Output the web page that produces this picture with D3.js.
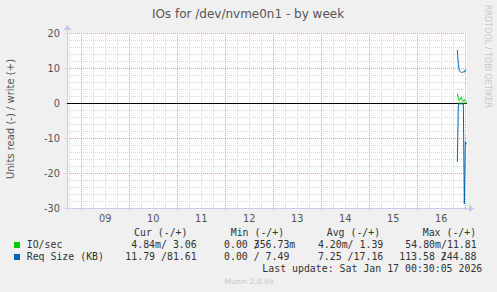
<!DOCTYPE html>
<html>
<head>
<meta charset="utf-8">
<script src="https://cdn.jsdelivr.net/npm/d3@7"></script>
<style>
  body { margin: 0; background: #f0f0f0; }
  svg { display: block; }
  .mono { font-family: "DejaVu Sans Mono", monospace; font-size: 9.9px; fill: #333; white-space: pre; }
</style>
</head>
<body>
<div id="chart"></div>
<script>
// time points of the last few hours (30 min steps), the rest of the week is empty
const times = [
  "2026-01-16 20:00", "2026-01-16 20:30", "2026-01-16 21:00", "2026-01-16 21:30",
  "2026-01-16 22:00", "2026-01-16 22:30", "2026-01-16 23:00", "2026-01-16 23:30",
  "2026-01-17 00:00", "2026-01-17 00:30",
];
const ioWrite = [2.6, 1.6, 0.6, 1.2, 1.7, 0.7, 0.5, 1.0, 0.4, 0.3];
const ioRead = [-0.01, -0.005, -0.004, -0.004, -0.003, -0.004, -0.005, -0.006, -0.005, -0.005];
const reqWrite = [15.1, 11.0, 9.2, 8.9, 8.7, 8.8, 8.9, 8.8, 9.4, 9.2];
const reqRead = [-16.8, -0.4, -0.3, -0.3, -0.2, -0.3, -0.3, -28.8, -11.1, -11.8];

const yTicks = [20, 10, 0, -10, -20, -30];
const legendHeader = ["Cur (-/+)", "Min (-/+)", "Avg (-/+)", "Max (-/+)"];
const legendNames = ["IO/sec", "Req Size (KB)"];
const legendColors = ["#00cc00", "#0066b3"];
const curValues = ["4.84m/ 3.06", "11.79 /81.61"];
const minValues = ["0.00 /356.73m", "0.00 / 7.49"];
const avgValues = ["4.20m/ 1.39", "7.25 /17.16"];
const maxValues = ["54.80m/11.81", "113.58 /244.88"];

const width = 497;
const height = 292;
const plot = { left: 67, right: 467, top: 33, bottom: 208 };
const charW = 5.96;

const parse = d3.timeParse("%Y-%m-%d %H:%M");
const start = parse("2026-01-08 16:50");
const end = parse("2026-01-17 00:50");

const svg = d3
  .select("#chart")
  .append("svg")
  .attr("width", width)
  .attr("height", height);

svg.append("rect").attr("width", width).attr("height", height).attr("fill", "#f0f0f0");
svg
  .append("rect")
  .attr("x", plot.left)
  .attr("y", plot.top)
  .attr("width", plot.right - plot.left)
  .attr("height", plot.bottom - plot.top)
  .attr("fill", "#ffffff");

const xScale = d3.scaleTime().domain([start, end]).range([plot.left, plot.right]);
const yScale = d3.scaleLinear().domain([-30, 20]).range([plot.bottom, plot.top]);

// minor grid
const minorX = d3.timeHour.every(6).range(start, end);
const minorY = d3.range(-30, 21, 2);
const grid = svg.append("g").attr("shape-rendering", "crispEdges");
grid
  .selectAll(".mx")
  .data(minorX)
  .enter()
  .append("line")
  .attr("x1", (d) => Math.round(xScale(d)) + 0.5)
  .attr("x2", (d) => Math.round(xScale(d)) + 0.5)
  .attr("y1", plot.top)
  .attr("y2", plot.bottom)
  .attr("stroke", "#d8d8d8")
  .attr("stroke-dasharray", "1,1");
grid
  .selectAll(".my")
  .data(minorY)
  .enter()
  .append("line")
  .attr("x1", plot.left)
  .attr("x2", plot.right)
  .attr("y1", (d) => Math.round(yScale(d)) + 0.5)
  .attr("y2", (d) => Math.round(yScale(d)) + 0.5)
  .attr("stroke", "#d8d8d8")
  .attr("stroke-dasharray", "1,1");

// major grid
const majorX = d3.timeDay.range(start, end);
grid
  .selectAll(".Mx")
  .data(majorX)
  .enter()
  .append("line")
  .attr("x1", (d) => Math.round(xScale(d)) + 0.5)
  .attr("x2", (d) => Math.round(xScale(d)) + 0.5)
  .attr("y1", plot.top)
  .attr("y2", plot.bottom + 3)
  .attr("stroke", "#eaa0a0")
  .attr("stroke-dasharray", "1,1");
grid
  .selectAll(".My")
  .data(yTicks)
  .enter()
  .append("line")
  .attr("x1", plot.left - 2)
  .attr("x2", plot.right)
  .attr("y1", (d) => Math.round(yScale(d)) + 0.5)
  .attr("y2", (d) => Math.round(yScale(d)) + 0.5)
  .attr("stroke", "#eaa0a0")
  .attr("stroke-dasharray", "1,1");

// y labels
svg
  .selectAll(".ylab")
  .data(yTicks)
  .enter()
  .append("text")
  .attr("x", 60)
  .attr("y", (d) => yScale(d) + 3.5)
  .attr("text-anchor", "end")
  .attr("font-family", "DejaVu Sans")
  .attr("font-size", 9.8)
  .attr("fill", "#555")
  .text((d) => d);

// x labels at noon
const noons = d3.timeDay.range(start, end).map((d) => d3.timeHour.offset(d, 12));
svg
  .selectAll(".xlab")
  .data(noons.filter((d) => d < end))
  .enter()
  .append("text")
  .attr("x", (d) => xScale(d))
  .attr("y", 222)
  .attr("text-anchor", "middle")
  .attr("font-family", "DejaVu Sans")
  .attr("font-size", 9.8)
  .attr("fill", "#555")
  .text(d3.timeFormat("%d"));

// axes with arrows
const axisColor = "#c8c8f0";
svg
  .append("line")
  .attr("x1", plot.left)
  .attr("x2", plot.right + 3)
  .attr("y1", plot.bottom + 0.5)
  .attr("y2", plot.bottom + 0.5)
  .attr("stroke", axisColor);
svg
  .append("path")
  .attr("d", `M${plot.right + 2},${plot.bottom - 3.5}L${plot.right + 7},${plot.bottom + 0.5}L${plot.right + 2},${plot.bottom + 4.5}Z`)
  .attr("fill", axisColor);
svg
  .append("line")
  .attr("x1", plot.left + 0.5)
  .attr("x2", plot.left + 0.5)
  .attr("y1", plot.bottom + 2)
  .attr("y2", plot.top - 4)
  .attr("stroke", axisColor);
svg
  .append("path")
  .attr("d", `M${plot.left - 3.5},${plot.top - 3}L${plot.left + 0.5},${plot.top - 8}L${plot.left + 4.5},${plot.top - 3}Z`)
  .attr("fill", axisColor);

// zero line
svg
  .append("line")
  .attr("x1", plot.left)
  .attr("x2", plot.right)
  .attr("y1", Math.round(yScale(0)) + 0.5)
  .attr("y2", Math.round(yScale(0)) + 0.5)
  .attr("stroke", "#000")
  .attr("shape-rendering", "crispEdges");

// series
const dates = times.map(parse);
const line = d3
  .line()
  .x((d, i) => xScale(dates[i]))
  .y((d) => yScale(d));
const series = [
  { values: ioRead, color: legendColors[0] },
  { values: ioWrite, color: legendColors[0] },
  { values: reqRead, color: legendColors[1] },
  { values: reqWrite, color: legendColors[1] },
];
svg
  .selectAll(".series")
  .data(series)
  .enter()
  .append("path")
  .attr("d", (d) => line(d.values))
  .attr("fill", "none")
  .attr("stroke", (d) => d.color)
  .attr("stroke-width", 1);

// titles
svg
  .append("text")
  .attr("x", 248)
  .attr("y", 18)
  .attr("text-anchor", "middle")
  .attr("font-family", "DejaVu Sans")
  .attr("font-size", 12)
  .attr("fill", "#555")
  .text("IOs for /dev/nvme0n1 - by week");
svg
  .append("text")
  .attr("transform", "translate(14,119) rotate(-90)")
  .attr("text-anchor", "middle")
  .attr("font-family", "DejaVu Sans")
  .attr("font-size", 10)
  .attr("fill", "#555")
  .text("Units read (-) / write (+)");
svg
  .append("text")
  .attr("transform", "translate(485,5) rotate(90)")
  .attr("font-family", "DejaVu Sans")
  .attr("font-size", 8)
  .attr("fill", "#c8c8c8")
  .text("RRDTOOL / TOBI OETIKER");

// legend
const header = [134, 230.7, 326.7, 422.7];
svg
  .selectAll(".hdr")
  .data(legendHeader)
  .enter()
  .append("text")
  .attr("class", "mono")
  .attr("x", (d, i) => header[i])
  .attr("y", 236)
  .text((d) => d);

// long values: the slash is drawn over the next digit (as rrdtool does)
function cell(x, y, value, anchor) {
  const parts = value.split("/");
  const t = svg.append("text").attr("class", "mono").attr("y", y);
  const overlap = value.length > 12;
  if (!overlap) {
    t.attr("x", x).attr("text-anchor", anchor).text(value);
    return;
  }
  const left = anchor === "end" ? x - (value.length - 1) * charW : x;
  t.attr("x", left);
  t.append("tspan").text(parts[0] + "/");
  t.append("tspan").attr("dx", -charW).text(parts[1]);
}

legendNames.forEach((name, i) => {
  const y = 248 + i * 12;
  svg
    .append("rect")
    .attr("x", 14)
    .attr("y", y - 6)
    .attr("width", 6)
    .attr("height", 6)
    .attr("fill", legendColors[i]);
  svg.append("text").attr("class", "mono").attr("x", 26.7).attr("y", y).text(name);
  cell(196.7, y, curValues[i], "end");
  cell(224, y, minValues[i], "start");
  cell(383.3, y, avgValues[i], "end");
  cell(476.7, y, maxValues[i], "end");
});

svg
  .append("text")
  .attr("class", "mono")
  .attr("x", 482.3)
  .attr("y", 272)
  .attr("text-anchor", "end")
  .text("Last update: Sat Jan 17 00:30:05 2026");
svg
  .append("text")
  .attr("x", 249)
  .attr("y", 284)
  .attr("text-anchor", "middle")
  .attr("font-family", "DejaVu Sans")
  .attr("font-size", 7.5)
  .attr("fill", "#c8c8c8")
  .text("Munin 2.0.69");
</script>
</body>
</html>
